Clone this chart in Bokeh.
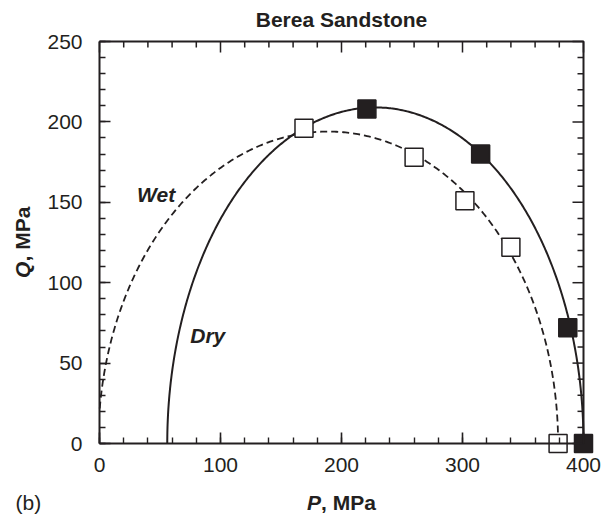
import numpy as np
from bokeh.plotting import figure
from bokeh.models import Range1d, LinearAxis, SingleIntervalTicker, Label, ColumnDataSource
from bokeh.embed import file_html
from bokeh.resources import INLINE

# Triaxial yield points, Berea sandstone (P = mean stress, Q = differential stress, MPa)
dry_p = [221, 315, 387, 400]
dry_q = [208, 180, 72, 0]
wet_p = [169, 260, 302, 340, 379]
wet_q = [196, 178, 151, 122, 0]

# Elliptical cap envelopes: P where the cap meets Q = 0, and the cap height
dry_cap_p = [56, 400]
dry_cap_qmax = 209
wet_cap_p = [-1, 379]
wet_cap_qmax = 194

P_MAX, Q_MAX = 400, 250
x_step, y_step = 100, 50

INK = "#231f20"
FONT = "Liberation Sans"

# pixel scale of the data area (frame fills the whole canvas)
PX_X = 1.21   # px per MPa along P
PX_Y = 1.608  # px per MPa along Q


def cap_curve(ends, qmax, n=400):
    c = 0.5 * (ends[0] + ends[1])
    a = 0.5 * (ends[1] - ends[0])
    t = np.linspace(0, np.pi, n)
    x = c + a * np.cos(t)
    y = qmax * np.sin(t)
    keep = x >= 0
    return x[keep], y[keep]


p = figure(
    width=602, height=516,
    x_range=Range1d(-99 / PX_X, P_MAX + 19 / PX_X),
    y_range=Range1d(-73 / PX_Y, Q_MAX + 41 / PX_Y),
    x_axis_location=None, y_axis_location=None,
    output_backend="svg", toolbar_location=None,
    min_border=0,
)
p.outline_line_color = None
p.grid.visible = False
p.background_fill_color = "white"
p.border_fill_color = "white"


def make_axis(kind):
    ticker = SingleIntervalTicker(interval=x_step if kind == "x" else y_step, num_minor_ticks=5)
    ax = LinearAxis(ticker=ticker, fixed_location=0,
                    bounds=(0, P_MAX) if kind == "x" else (0, Q_MAX))
    ax.axis_line_color = INK
    ax.axis_line_width = 2
    ax.major_tick_line_color = INK
    ax.minor_tick_line_color = INK
    ax.major_tick_line_width = 1.6
    ax.minor_tick_line_width = 1.4
    ax.major_tick_in = 11
    ax.major_tick_out = 0
    ax.minor_tick_in = 6
    ax.minor_tick_out = 0
    ax.major_label_text_font = FONT
    ax.major_label_text_font_size = "21px"
    ax.major_label_text_color = INK
    return ax


bottom = make_axis("x")
bottom.major_label_standoff = 14
left = make_axis("y")
left.major_label_standoff = 17
p.add_layout(bottom, "below")
p.add_layout(left, "left")

# Top and right edges of the box, with inward ticks
p.line([0, P_MAX, P_MAX], [Q_MAX, Q_MAX, 0], line_color=INK, line_width=2)
xt = np.arange(0, P_MAX + 1, x_step / 5)
yt = np.arange(0, Q_MAX + 1, y_step / 5)
xt_len = np.where(xt % x_step == 0, 11, 6) / PX_Y
yt_len = np.where(yt % y_step == 0, 11, 6) / PX_X
p.segment(xt, Q_MAX, xt, Q_MAX - xt_len, line_color=INK, line_width=1.5)
p.segment(P_MAX, yt, P_MAX - yt_len, yt, line_color=INK, line_width=1.5)

# Cap envelopes
wx, wy = cap_curve(wet_cap_p, wet_cap_qmax)
dx, dy = cap_curve(dry_cap_p, dry_cap_qmax)
p.line(wx, wy, line_color=INK, line_width=1.8, line_dash="7 4")
p.line(dx, dy, line_color=INK, line_width=2)

# Yield points
p.scatter("p", "q", source=ColumnDataSource(dict(p=wet_p, q=wet_q)), marker="square",
          size=18, fill_color="white", line_color=INK, line_width=1.5)
p.scatter("p", "q", source=ColumnDataSource(dict(p=dry_p, q=dry_q)), marker="square",
          size=18, fill_color=INK, line_color=INK, line_width=1.5)


def label(x, y, text, style="bold", **kw):
    p.add_layout(Label(x=x, y=y, text=text, text_font=FONT, text_font_size="21px",
                       text_font_style=style, text_color=INK, text_baseline="middle", **kw))


# Curve labels
label(31, 155, "Wet", "bold italic")
label(75, 67, "Dry", "bold italic")

# Title
label(200, Q_MAX + 22 / PX_Y, "Berea Sandstone", text_align="center")

# Axis titles: italic bold symbol followed by bold units
label(171.5, -59 / PX_Y, "P", "bold italic")
label(183.1, -59 / PX_Y, ", MPa")
label(-77 / PX_X, 103, "Q", "bold italic", angle=np.pi / 2)
label(-77 / PX_X, 113.2, ", MPa", angle=np.pi / 2)

# Panel tag
label(-84 / PX_X, -59 / PX_Y, "(b)", "normal")

open("out.html", "w").write(file_html(p, INLINE))
